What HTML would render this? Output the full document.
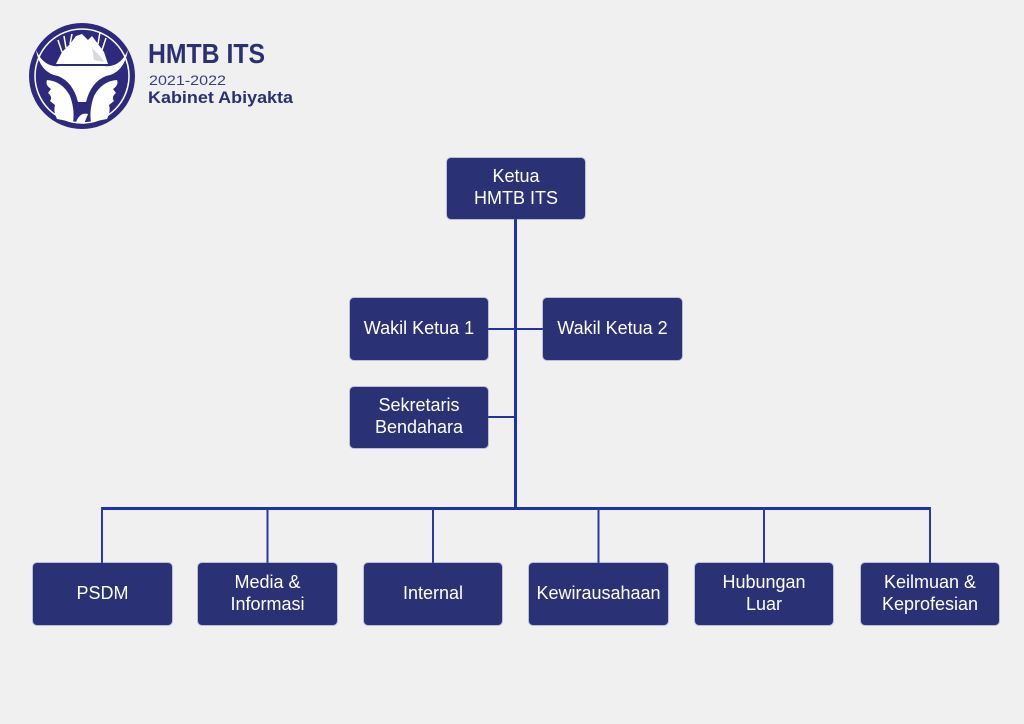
<!DOCTYPE html>
<html><head><meta charset="utf-8"><style>
html,body{margin:0;padding:0;}
body{width:1024px;height:724px;background:#f0f0f0;position:relative;overflow:hidden;font-family:"Liberation Sans",Arial,sans-serif;}
.b{position:absolute;background:#2b3175;color:#fff;border-radius:4px;display:flex;align-items:center;justify-content:center;text-align:center;font-size:18px;line-height:22px;box-shadow:0 0 0 1px rgba(90,100,160,0.35);box-sizing:border-box;padding-bottom:3px;}
svg{position:absolute;left:0;top:0;}
</style></head><body>
<svg width="1024" height="724" viewBox="0 0 1024 724">
  <!-- logo -->
  <circle cx="82" cy="76" r="53" fill="#2d2a7e"/>
  <circle cx="82" cy="76" r="47" fill="none" stroke="#fff" stroke-width="1.5"/>
  <path d="M56,64 L62,52 L70,44 L76,36 L82,34 L88,40 L92,36 L98,44 L104,52 L108,64 Z" fill="#fff"/>
  <path d="M92,48 L100,56 L104,62 L94,60 Z" fill="#d8d8e0"/>
  <path d="M62,52 L58,40 M66,48 L64,36 M98,44 L100,32 M102,50 L106,38 M70,44 L72,34" stroke="#fff" stroke-width="1.5" fill="none"/>
  <path d="M36,50 Q44,68 60,66 L104,66 Q120,68 128,50 Q124,73 106,76 Q91,82 86,102 L78,102 Q73,82 58,76 Q40,73 36,50 Z" fill="#fff"/>
  <path d="M47,80 Q62,81 70,96 Q75,110 73,122 L57,119 Q53,111 55,105 L50,101 Q53,97 48,93 L51,89 Q45,85 47,80 Z" fill="#fff"/>
  <path d="M117,80 Q102,81 94,96 Q89,110 91,122 L107,119 Q111,111 109,105 L114,101 Q111,97 116,93 L113,89 Q119,85 117,80 Z" fill="#fff"/>
  <path d="M76,122 Q80,112 88,114 L84,124 Z" fill="#fff"/>
  <!-- title -->
  <text x="148" y="63" font-family="Liberation Sans Narrow, Liberation Sans, sans-serif" font-size="28" font-weight="bold" fill="#2b2f73" textLength="117" lengthAdjust="spacingAndGlyphs">HMTB ITS</text>
  <text x="149" y="85" font-family="Liberation Sans Narrow, Liberation Sans, sans-serif" font-size="14" fill="#3a3f80" textLength="77" lengthAdjust="spacingAndGlyphs">2021-2022</text>
  <text x="148" y="103" font-family="Liberation Sans Narrow, Liberation Sans, sans-serif" font-size="17" font-weight="bold" fill="#2b2f73" textLength="145" lengthAdjust="spacingAndGlyphs">Kabinet Abiyakta</text>
  <!-- connectors -->
  <g stroke="#1f33a3" fill="none">
    <line x1="515.5" y1="219" x2="515.5" y2="509" stroke-width="3"/>
    <line x1="488" y1="329" x2="543" y2="329" stroke-width="2"/>
    <line x1="488" y1="417" x2="516" y2="417" stroke-width="2"/>
    <line x1="101" y1="508.5" x2="931" y2="508.5" stroke-width="3"/>
  </g>
  <g stroke="#2a3a9e" stroke-width="2" fill="none">
    <line x1="102" y1="508" x2="102" y2="563"/>
    <line x1="267.5" y1="508" x2="267.5" y2="563"/>
    <line x1="433" y1="508" x2="433" y2="563"/>
    <line x1="598.5" y1="508" x2="598.5" y2="563"/>
    <line x1="764" y1="508" x2="764" y2="563"/>
    <line x1="930" y1="508" x2="930" y2="563"/>
  </g>
</svg>
<div class="b" style="left:447px;top:158px;width:138px;height:61px;">Ketua<br>HMTB ITS</div>
<div class="b" style="left:350px;top:298px;width:138px;height:62px;">Wakil Ketua 1</div>
<div class="b" style="left:543px;top:298px;width:139px;height:62px;">Wakil Ketua 2</div>
<div class="b" style="left:350px;top:387px;width:138px;height:61px;">Sekretaris<br>Bendahara</div>
<div class="b" style="left:33px;top:563px;width:139px;height:62px;">PSDM</div>
<div class="b" style="left:198px;top:563px;width:139px;height:62px;">Media &amp;<br>Informasi</div>
<div class="b" style="left:364px;top:563px;width:138px;height:62px;">Internal</div>
<div class="b" style="left:529px;top:563px;width:139px;height:62px;">Kewirausahaan</div>
<div class="b" style="left:695px;top:563px;width:138px;height:62px;">Hubungan<br>Luar</div>
<div class="b" style="left:861px;top:563px;width:138px;height:62px;">Keilmuan &amp;<br>Keprofesian</div>
</body></html>
